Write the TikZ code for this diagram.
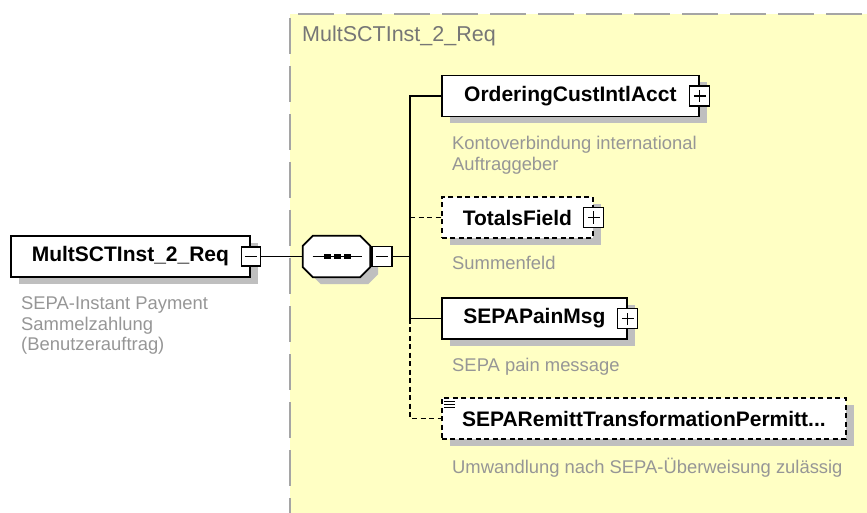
\documentclass[tikz,border=0pt]{standalone}
\usepackage{fontspec}
\setmainfont{Liberation Sans}
\usetikzlibrary{positioning,shadows}

\definecolor{groupyellow}{RGB}{255,255,196}
\definecolor{groupline}{RGB}{165,165,165}
\definecolor{descgray}{RGB}{150,150,150}
\definecolor{titlegray}{RGB}{118,118,118}

\tikzset{
  boxshadow/.style={drop shadow={shadow xshift=8pt, shadow yshift=-7pt, fill=black!25, opacity=1}},
  field/.style={draw, line width=1.8pt, fill=white, anchor=west, inner sep=0pt,
    minimum height=41pt, font=\bfseries\fontsize{21}{25}\selectfont, boxshadow},
  optional/.style={dash pattern=on 5pt off 3.5pt},
  link/.style={line width=1.8pt},
  desc/.style={text=descgray, align=left, inner sep=0pt,
    font=\fontsize{18.4}{20.3}\selectfont},
  pmbox/.style={draw, solid, line width=1.3pt, fill=white, minimum size=20pt, inner sep=0pt},
  collapse/.style={pmbox, path picture={
    \draw[line width=1.3pt] ([xshift=-6pt]path picture bounding box.center)
      -- ([xshift=6pt]path picture bounding box.center);}},
  expand/.style={pmbox, path picture={
    \draw[line width=1.3pt] ([xshift=-6pt]path picture bounding box.center)
      -- ([xshift=6pt]path picture bounding box.center)
      ([yshift=-6pt]path picture bounding box.center)
      -- ([yshift=6pt]path picture bounding box.center);}},
  seqbox/.style={inner sep=0pt, minimum width=67pt, minimum height=41pt}
}

\begin{document}
\begin{tikzpicture}[x=1pt, y=-1pt]
  \useasboundingbox (0,0) rectangle (867,513);

  % complex type area
  \fill[groupyellow] (290,14) rectangle (867,513);
  \draw[groupline, line width=2.5pt, dash pattern=on 36pt off 12pt] (298,14) -- (867,14);
  \draw[groupline, line width=2pt, dash pattern=on 36pt off 12pt] (290,18) -- (290,513);
  \node[anchor=base west, inner sep=0pt, text=titlegray,
    font=\fontsize{21.5}{25}\selectfont] (grouptitle) at (302,42) {MultSCTInst\_2\_Req};

  \def\spineX{410}
  \def\cut{10pt}

  % root element
  \node[field, minimum width=239pt] (root) at (10,256.5) {MultSCTInst\_2\_Req};
  \node[collapse, minimum size=19pt] (rootpm) at (root.east) {};
  \node[desc, below right=19pt and 11pt of root.south west] (rootdesc)
    {SEPA-Instant Payment\\Sammelzahlung\\(Benutzerauftrag)};

  % sequence
  \node[seqbox] (seq) at (336.5,256.5) {};
  \draw[line width=1.8pt, fill=white, boxshadow]
    ([yshift=-\cut]seq.north west) -- ([xshift=\cut]seq.north west)
    -- ([xshift=-\cut]seq.north east) -- ([yshift=-\cut]seq.north east)
    -- ([yshift=\cut]seq.south east) -- ([xshift=-\cut]seq.south east)
    -- ([xshift=\cut]seq.south west) -- ([yshift=\cut]seq.south west) -- cycle;
  \draw[line width=1.5pt] ([xshift=-24pt]seq.center) -- ([xshift=25pt]seq.center);
  \foreach \dx in {-9,1,11}
    \fill ([xshift=\dx pt]seq.center) +(-3.2,-2.6) rectangle +(3.2,2.6);
  \node[collapse] (seqpm) at (382,256.5) {};
  \coordinate (spine) at (\spineX,256.5);

  % children
  \node[field, minimum width=257pt] (oc) at (441,96) {OrderingCustIntlAcct};
  \node[expand] (ocpm) at (oc.east) {};
  \node[desc, below right=19pt and 11pt of oc.south west] (ocdesc)
    {Kontoverbindung international\\Auftraggeber};

  \node[field, optional, minimum width=151pt] (tf) at (441,217.5) {TotalsField};
  \node[expand] (tfpm) at (tf.east) {};
  \node[desc, below right=17pt and 11pt of tf.south west] (tfdesc) {Summenfeld};

  \node[field, minimum width=185pt] (sp) at (441,318.5) {SEPAPainMsg};
  \node[expand] (sppm) at (sp.east) {};
  \node[desc, below right=18pt and 11pt of sp.south west] (spdesc) {SEPA pain message};

  \node[field, optional, minimum width=404pt] (sr) at (441,418.5)
    {SEPARemittTransformationPermitt...};
  \foreach \dy in {4,7,10}
    \draw[line width=1pt] ([shift={(3pt,-\dy pt)}]sr.north west) -- ++(11pt,0pt);
  \node[desc, below right=18pt and 11pt of sr.south west] (srdesc)
    {Umwandlung nach SEPA-Überweisung zulässig};

  % connectors
  \draw[link] (rootpm.east) -- (seq.west);
  \draw[link] (seqpm.east) -- (spine);
  \draw[link] (spine) |- (oc.west);
  \draw[link] (spine) |- (sp.west);
  \draw[link, optional] (tf.west -| spine) -- (tf.west);
  \draw[link, optional] (sp.west -| spine) |- (sr.west);

\end{tikzpicture}
\end{document}
